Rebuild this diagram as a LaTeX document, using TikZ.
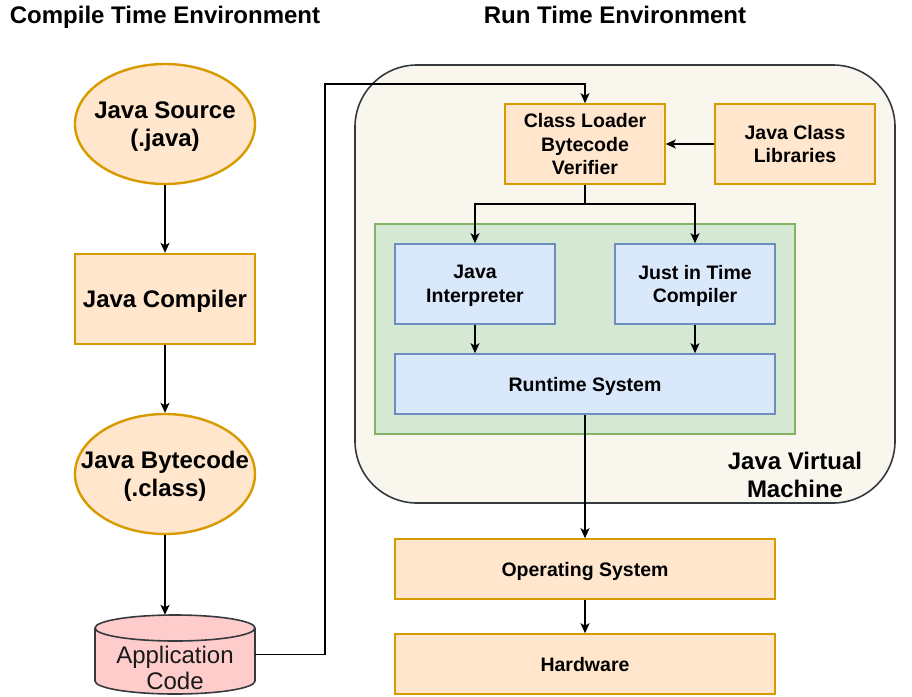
\documentclass[tikz,border=0pt]{standalone}
\usepackage{fontspec}
\setmainfont{Liberation Sans}
\usetikzlibrary{shapes.geometric,arrows.meta}
\definecolor{orfill}{HTML}{FFE6CC}
\definecolor{orline}{HTML}{D79B00}
\definecolor{blfill}{HTML}{DAE8FC}
\definecolor{blline}{HTML}{6C8EBF}
\definecolor{grfill}{HTML}{D5E8D4}
\definecolor{grline}{HTML}{82B366}
\definecolor{jvmfill}{HTML}{F9F6EE}
\definecolor{darkline}{HTML}{36393D}
\definecolor{cylfill}{HTML}{FFCCCC}
\begin{document}
\begin{tikzpicture}[x=1pt,y=-1pt,
  bigtxt/.style={font=\fontsize{24}{28}\selectfont\bfseries, text depth=0pt},
  medtxt/.style={font=\fontsize{19.5}{23.8}\selectfont\bfseries, text depth=0pt},
  leftbox/.style={draw=orline, fill=orfill, line width=2.4pt, inner sep=0pt, align=center, bigtxt},
  orbox/.style={draw=orline, fill=orfill, line width=1.6pt, inner sep=0pt, align=center, medtxt},
  blbox/.style={draw=blline, fill=blfill, line width=1.6pt, inner sep=0pt, align=center, medtxt},
  arr/.style={line width=1.5pt, -{Stealth[length=10pt,width=9pt,inset=2.5pt]}},
  line/.style={line width=1.5pt}]
\useasboundingbox (0,0) rectangle (912,696);

% titles
\node[bigtxt] (t1) at (165,15) {Compile Time Environment};
\node[bigtxt] (t2) at (615,15) {Run Time Environment};

% JVM container
\node[draw=darkline, fill=jvmfill, line width=1.6pt, rounded corners=62pt,
      minimum width=540pt, minimum height=438pt, inner sep=0pt] (jvm) at (625,284) {};
\node[bigtxt, align=center] (jvmlabel) at (795,475) {Java Virtual\\Machine};

% green container
\node[draw=grline, fill=grfill, line width=1.6pt, minimum width=420pt, minimum height=210pt, inner sep=0pt] (green) at (585,329) {};

% left column
\node[leftbox, ellipse, minimum width=180pt, minimum height=120pt] (src) at (165,124) {};
\node[bigtxt, align=center] (srclabel) at (src.center) {Java Source\\(.java)};
\node[leftbox, minimum width=180pt, minimum height=90pt] (comp) at (165,299) {Java Compiler};
\node[leftbox, ellipse, minimum width=180pt, minimum height=120pt] (bc) at (165,474) {};
\node[bigtxt, align=center] (bclabel) at (bc.center) {Java Bytecode\\(.class)};

% cylinder
\node[minimum width=160pt, minimum height=79pt, inner sep=0pt] (app) at (175,654.5) {};
\draw[draw=darkline, fill=cylfill, line width=1.6pt]
  (95,628) -- (95,681) arc (180:0:80 and 13) -- (255,628) arc (0:-180:80 and 13) -- cycle;
\draw[draw=darkline, line width=1.6pt] (95,628) arc (180:0:80 and 13);
\node[font=\fontsize{24}{26}\selectfont, text=black!90, align=center] (applabel) at (175,668) {Application\\Code};

% right side
\node[orbox, minimum width=160pt, minimum height=80pt] (loader) at (585,144) {Class Loader\\Bytecode\\Verifier};
\node[orbox, minimum width=160pt, minimum height=80pt] (lib) at (795,144) {Java Class\\Libraries};
\node[blbox, minimum width=160pt, minimum height=80pt] (interp) at (475,284) {Java\\Interpreter};
\node[blbox, minimum width=160pt, minimum height=80pt] (jit) at (695,284) {Just in Time\\Compiler};
\node[blbox, minimum width=380pt, minimum height=60pt] (rts) at (585,384) {Runtime System};
\node[orbox, minimum width=380pt, minimum height=60pt] (os) at (585,569) {Operating System};
\node[orbox, minimum width=380pt, minimum height=60pt] (hw) at (585,664) {Hardware};

% connectors
\draw[arr] (src.south) -- (comp.north);
\draw[arr] (comp.south) -- (bc.north);
\draw[arr] (bc.south) -- (bc.south |- app.north);
\coordinate (bend) at (325,84);
\draw[arr] (app.east) -| (bend) -| (loader.north);
\draw[arr] (lib) -- (loader);
\coordinate (split) at (585,204);
\draw[line] (loader.south) -- (split);
\draw[arr] (split) -| (interp.north);
\draw[arr] (split) -| (jit.north);
\draw[arr] (interp.south) -- (interp.south |- rts.north);
\draw[arr] (jit.south) -- (jit.south |- rts.north);
\draw[arr] (rts.south) -- (os.north);
\draw[arr] (os.south) -- (hw.north);
\end{tikzpicture}
\end{document}
